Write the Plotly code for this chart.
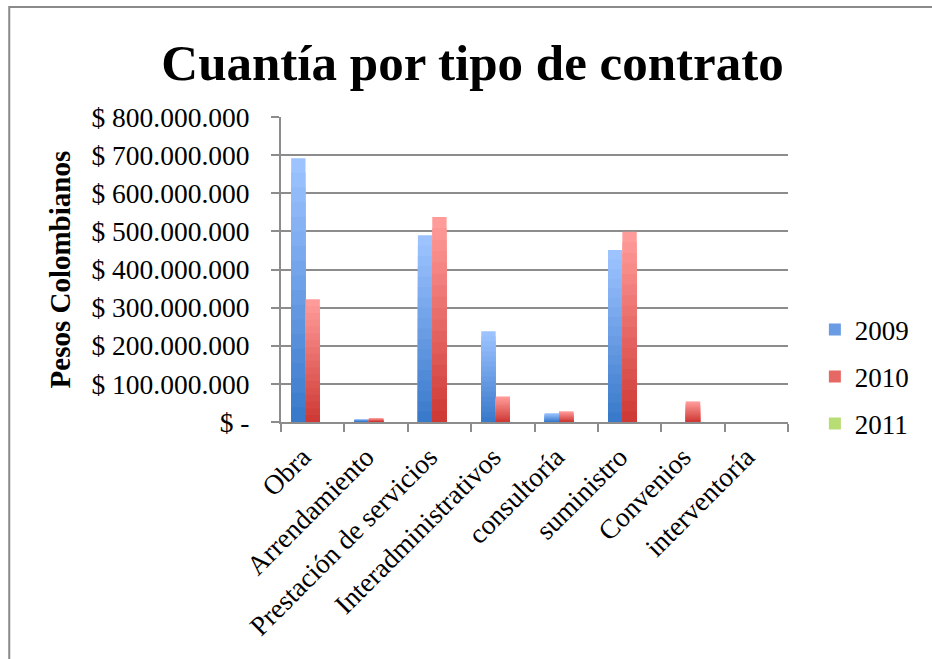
import plotly.graph_objects as go

categories = ["Obra", "Arrendamiento", "Prestación de servicios", "Interadministrativos",
              "consultoría", "suministro", "Convenios", "interventoría"]
series_names = ["2009", "2010", "2011"]
values_2009 = [692e6, 7e6, 490e6, 238e6, 23e6, 451e6, 0, 0]
values_2010 = [322e6, 10e6, 538e6, 67e6, 28e6, 499e6, 54e6, 0]
values_2011 = [0, 0, 0, 0, 0, 0, 0, 0]
tick_values = [0, 100e6, 200e6, 300e6, 400e6, 500e6, 600e6, 700e6, 800e6]
tick_labels = ["$ -", "$ 100.000.000", "$ 200.000.000", "$ 300.000.000", "$ 400.000.000",
               "$ 500.000.000", "$ 600.000.000", "$ 700.000.000", "$ 800.000.000"]

series_values = [values_2009, values_2010, values_2011]
# (top colour, bottom colour) of each gradient
gradients = [((157, 195, 255), (58, 122, 203)),
             ((255, 156, 154), (207, 58, 54)),
             ((218, 250, 158), (156, 196, 81))]

FONT = "Liberation Serif"
N = 18

fig = go.Figure()
for name, vals, (top, bot) in zip(series_names, series_values, gradients):
    for k in range(N):
        frac = (N - k) / N
        t = k / (N - 1)
        col = tuple(round(top[i] + (bot[i] - top[i]) * t) for i in range(3))
        fig.add_trace(go.Bar(
            x=categories,
            y=[v * frac for v in vals],
            name=name,
            offsetgroup=name,
            legendgroup=name,
            showlegend=(k == N // 2),
            marker=dict(color="rgb(%d,%d,%d)" % col, line=dict(width=0)),
            hoverinfo="skip" if k else None,
        ))

fig.update_layout(
    width=932, height=659,
    margin=dict(l=281, r=144, t=117, b=237),
    paper_bgcolor="white", plot_bgcolor="white",
    barmode="group", bargap=0.32, bargroupgap=0,
    font=dict(family=FONT, size=27, color="black"),
    title=dict(text="<b>Cuantía por tipo de contrato</b>",
               font=dict(family=FONT, size=51, color="black"),
               x=0.507, xanchor="center", y=0.905, yanchor="middle"),
    legend=dict(x=1.053, xanchor="left", y=0.148, yanchor="middle",
                font=dict(family=FONT, size=27), tracegroupgap=9,
                itemwidth=30, bgcolor="rgba(0,0,0,0)"),
    showlegend=True,
    shapes=[dict(type="rect", xref="paper", yref="paper",
                 x0=-0.536, x1=2.0, y0=-2.0, y1=1.361,
                 line=dict(color="#8a8a8a", width=2), layer="below")],
    annotations=[dict(text="<b>Pesos Colombianos</b>", xref="paper", yref="paper",
                      x=-0.436, y=0.5, xanchor="center", yanchor="middle",
                      textangle=-90, showarrow=False,
                      font=dict(family=FONT, size=29, color="black"))],
)

fig.update_yaxes(
    range=[0, 800e6], tickvals=tick_values, ticktext=tick_labels,
    showgrid=True, gridcolor="#8c8c8c", gridwidth=2,
    showline=True, linecolor="#8c8c8c", linewidth=2,
    ticks="outside", ticklen=8, tickcolor="#8c8c8c", tickwidth=2,
    ticklabelstandoff=16,
    zeroline=False,
    tickfont=dict(family=FONT, size=27.5, color="black"),
)
fig.update_xaxes(
    type="category", tickson="boundaries",
    showline=True, linecolor="#8c8c8c", linewidth=2,
    ticks="outside", ticklen=8, tickcolor="#8c8c8c", tickwidth=2,
    tickangle=-45, showgrid=False,
    ticklabelshift=-10, ticklabelstandoff=6,
    tickfont=dict(family=FONT, size=27.5, color="black"),
)

fig.write_html("out.html", config={"displayModeBar": False},
               post_script="document.body.style.margin='0';document.body.style.overflow='hidden';")
